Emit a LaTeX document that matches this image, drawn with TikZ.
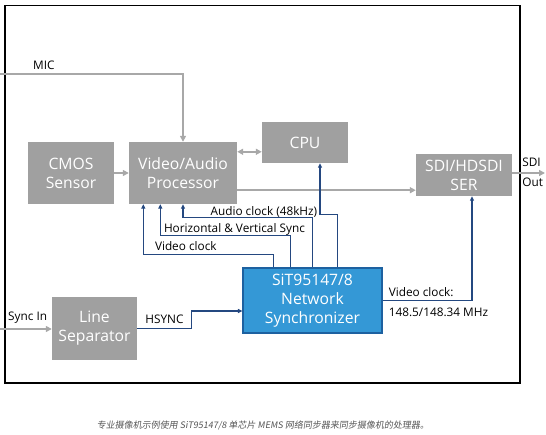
\documentclass[tikz,border=0pt]{standalone}
\usepackage{fontspec}
\setmainfont{Open Sans}
\newfontfamily\cjkfont[FakeSlant=0.15]{Noto Sans CJK SC}
\usetikzlibrary{arrows.meta,calc}
\definecolor{boxgray}{RGB}{160,160,160}
\definecolor{argray}{RGB}{168,168,168}
\definecolor{syncblue}{RGB}{52,152,214}
\definecolor{syncedge}{RGB}{29,97,160}
\definecolor{linkblue}{RGB}{36,72,128}
\definecolor{capgray}{RGB}{85,85,85}

\begin{document}
\begin{tikzpicture}[x=1pt,y=-1pt,
	blk/.style={fill=boxgray,text=white,font=\fontsize{15.7}{19}\selectfont,align=center,inner sep=0pt},
	syncblk/.style={blk,fill=syncblue,draw=syncedge,line width=1.2pt},
	gar/.style={draw=argray,line width=1.6pt,>={Triangle[length=6pt,width=6pt]},->},
	bar/.style={draw=linkblue,line width=1.2pt,>={Triangle[length=4.5pt,width=4pt]},->},
	lbl/.style={font=\fontsize{11.8}{13}\selectfont,inner sep=0pt,anchor=west}]
\useasboundingbox (0,0) rectangle (546,435);
\draw[line width=1.8pt] (5,5.5) rectangle (520,383);

\node[blk,minimum width=86pt,minimum height=62pt] (cmos) at (71,173) {CMOS\\Sensor};
\node[blk,minimum width=108pt,minimum height=62pt] (vap) at (183,173) {Video/Audio\\Processor};
\node[blk,minimum width=86pt,minimum height=41pt] (cpu) at (305,142.5) {CPU};
\node[blk,minimum width=96pt,minimum height=42pt] (ser) at (464,175) {SDI/HDSDI\\SER};
\node[blk,minimum width=85pt,minimum height=63pt] (lsep) at (94.5,328.5) {Line\\Separator};
\node[syncblk,minimum width=139pt,minimum height=65pt] (synch) at (312.5,300.5) {SiT95147/8\\Network\\Synchronizer};

\coordinate (mic) at (0,74);
\coordinate (syncin) at (0,329);
\coordinate (sdiout) at (545,173);
\coordinate (va) at ($(vap.north east)+(0,10)$);
\coordinate (vb) at ($(vap.south east)+(0,-14)$);
\coordinate (t1) at ([xshift=31pt]synch.north west);
\coordinate (t2) at ([xshift=48pt]synch.north west);
\coordinate (t3) at ([xshift=70pt]synch.north west);
\coordinate (t4) at ([xshift=95pt]synch.north west);

\draw[gar] (mic) -| (vap.north);
\draw[gar] (cmos) -- (vap);
\draw[gar,<->] (va) -- (va-|cpu.west);
\draw[gar] (vb) -- (vb-|ser.west);
\draw[gar] ([yshift=2pt]ser.east) -- (sdiout);
\draw[gar] (syncin) -- (syncin-|lsep.west);

\draw[bar] (t1) -- ++(0,-13) coordinate (vck) -| ([xshift=14.5pt]vap.south west) coordinate (vcka);
\draw[bar] (t2) -- ++(0,-32) coordinate (hvs) -| ([xshift=31.5pt]vap.south west) coordinate (hvsa);
\draw[bar] (t3) -- ++(0,-50) coordinate (aud) -| (vap.south);
\draw[bar] (t4) -- ++(0,-53) -| ([xshift=15pt]cpu.south);
\draw[bar] (synch.east) -| ([xshift=8pt]ser.south);
\draw[bar] (lsep.east) -- ++(54,0) |- ([yshift=-10.5pt]synch.west);

\node[lbl] at ($(mic)+(33,-9)$) {MIC};
\node[lbl] at ($(syncin)+(8,-11)$) {Sync In};
\node[lbl] at ($(lsep.east)+(8,-9.5)$) {HSYNC};
\node[lbl] at ($(vcka|-vck)+(11.5,-8)$) {Video clock};
\node[lbl] at ($(hvsa|-hvs)+(3.5,-6)$) {Horizontal \& Vertical Sync};
\node[lbl,anchor=east] at ($(aud)+(5,-5.5)$) {Audio clock (48kHz)};
\node[lbl] at ($(synch.east)+(6,-8.5)$) {Video clock:};
\node[lbl] at ($(synch.east)+(6,11.5)$) {148.5/148.34 MHz};
\node[lbl] at ($(ser.east)+(10,-13)$) {SDI};
\node[lbl] at ($(ser.east)+(10,7)$) {Out};

\node[font=\cjkfont\fontsize{9}{11}\selectfont,text=capgray] (cap) at (263,425) {专业摄像机示例使用 SiT95147/8 单芯片 MEMS 网络同步器来同步摄像机的处理器。};
\end{tikzpicture}
\end{document}
